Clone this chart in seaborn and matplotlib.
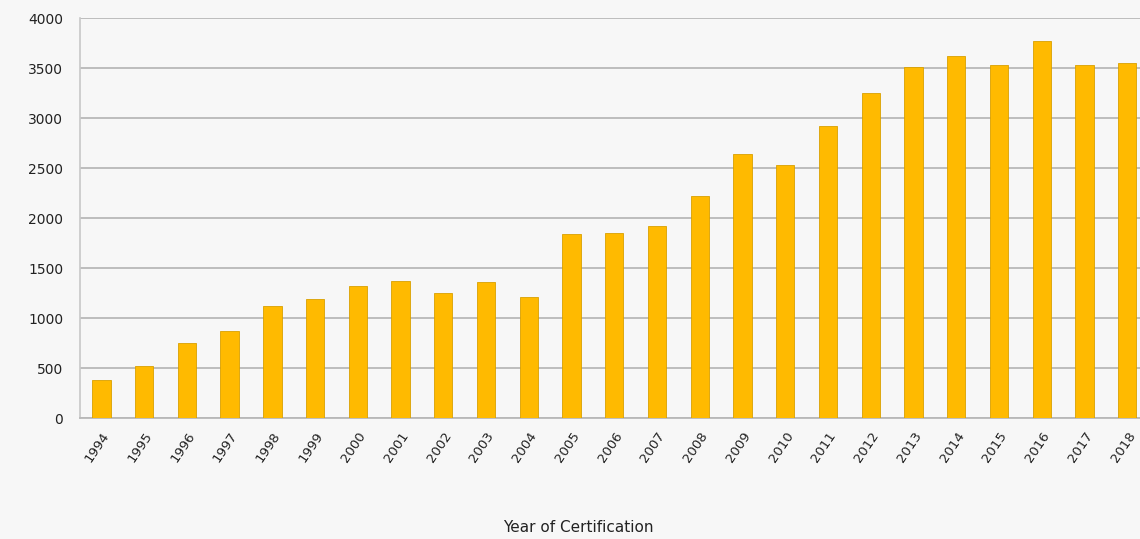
import matplotlib
matplotlib.use("Agg")
import matplotlib.pyplot as plt
import seaborn as sns
import pandas as pd

years = [str(y) for y in range(1994, 2019)]
certifications = [380, 520, 750, 870, 1120, 1190, 1320, 1370, 1250, 1360, 1210,
                  1840, 1850, 1925, 2220, 2645, 2530, 2925, 3250, 3510, 3620,
                  3535, 3770, 3530, 3555]
y_ticks = [0, 500, 1000, 1500, 2000, 2500, 3000, 3500, 4000]
x_label = "Year of Certification"

df = pd.DataFrame({"year": years, "count": certifications})

sns.set_theme(style="white")
plt.rcParams['font.family'] = ['DejaVu Sans']

fig = plt.figure(figsize=(11.4, 5.39), dpi=100)
fig.patch.set_facecolor("#F7F7F7")
ax = fig.add_axes([80/1140, (539-418)/539, 1060/1140, 400/539])
ax.set_facecolor("#F7F7F7")

sns.barplot(data=df, x="year", y="count", color="#FFBA00", width=0.43,
            saturation=1, edgecolor="#D9A000", linewidth=0.6, ax=ax, zorder=3)

ax.set_ylim(0, 4000)
ax.set_xlim(-0.5, 24.3)
ax.set_yticks(y_ticks)
ax.set_yticklabels([str(v) for v in y_ticks], fontsize=10, color="#222222")
ax.yaxis.grid(True, color="#B8B8B8", linewidth=1.3, zorder=0)
ax.set_axisbelow(True)
ax.set_xticks(range(len(years)))
ax.set_xticklabels(years, rotation=56, ha="right", rotation_mode="anchor",
                   fontsize=9.5, color="#222222")
ax.tick_params(axis="x", pad=8, length=0)
ax.tick_params(axis="y", pad=12, length=0)
ax.set_xlabel(x_label, fontsize=11, color="#222222")
ax.xaxis.set_label_coords(0.47, -0.255)
ax.set_ylabel("")
for s in ["top", "right"]:
    ax.spines[s].set_visible(False)
ax.spines["left"].set_color("#C8C8C8")
ax.spines["left"].set_linewidth(1.2)
ax.spines["bottom"].set_color("#B8B8B8")
ax.spines["bottom"].set_linewidth(1.3)

fig.savefig("out.png", dpi=100, facecolor=fig.get_facecolor())
